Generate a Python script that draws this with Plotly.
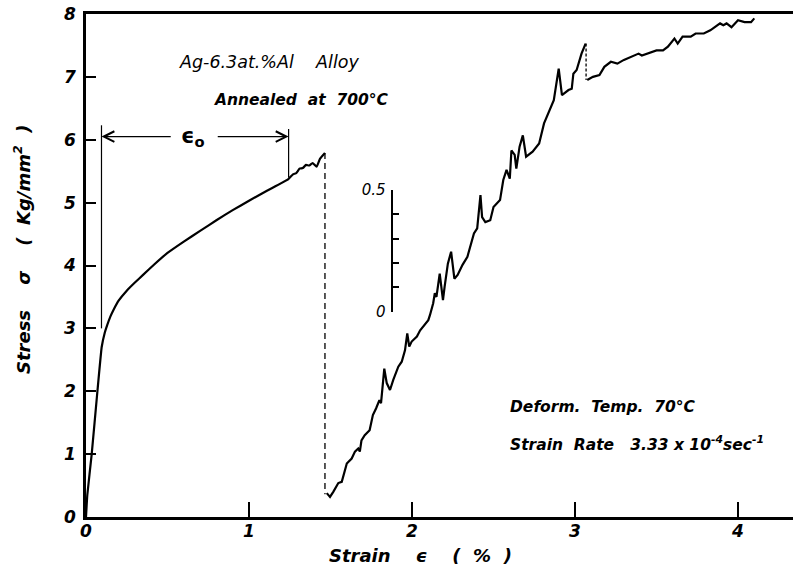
import plotly.graph_objects as go

# ---- stress-strain record (strain in %, stress in Kg/mm^2) ----
# first loading, annealed at 700 C
strain_load1 = [0, 0.008, 0.035, 0.07, 0.096, 0.115, 0.13, 0.15, 0.17, 0.20, 0.25, 0.30,
                0.35, 0.42, 0.50, 0.60, 0.70, 0.80, 0.90, 1.00, 1.11, 1.24, 1.27, 1.29,
                1.31, 1.33, 1.35, 1.37, 1.39, 1.415, 1.436, 1.466]
stress_load1 = [0, 0.35, 1.0, 2.0, 2.7, 2.93, 3.05, 3.19, 3.30, 3.44, 3.60, 3.73,
                3.85, 4.02, 4.20, 4.38, 4.55, 4.72, 4.88, 5.03, 5.19, 5.37, 5.45, 5.47,
                5.54, 5.55, 5.60, 5.59, 5.63, 5.57, 5.70, 5.79]

# reloading after the unload (serrated flow)
strain_load2 = [1.477, 1.497, 1.517, 1.548, 1.569, 1.60, 1.63, 1.65, 1.67, 1.68, 1.69, 1.71,
                1.74, 1.76, 1.78, 1.80, 1.81, 1.83, 1.845, 1.865, 1.885, 1.916, 1.937, 1.957,
                1.971, 1.983, 1.998, 2.03, 2.05, 2.07, 2.10, 2.11, 2.13, 2.14, 2.15, 2.17,
                2.19, 2.20, 2.22, 2.24, 2.26, 2.28, 2.31, 2.34, 2.38, 2.40, 2.42, 2.43,
                2.45, 2.48, 2.50, 2.54, 2.56, 2.58, 2.60, 2.61, 2.63, 2.64, 2.66, 2.68,
                2.70, 2.74, 2.78, 2.81, 2.85, 2.87, 2.90, 2.92, 2.96, 2.98, 2.99, 3.01,
                3.04, 3.065]
stress_load2 = [0.38, 0.32, 0.40, 0.54, 0.56, 0.85, 0.93, 1.04, 1.09, 1.04, 1.22, 1.30,
                1.38, 1.62, 1.73, 1.86, 1.81, 2.36, 2.13, 2.02, 2.18, 2.39, 2.47, 2.65,
                2.92, 2.71, 2.79, 2.87, 2.97, 3.03, 3.13, 3.21, 3.40, 3.56, 3.50, 3.87,
                3.45, 3.66, 4.03, 4.22, 3.79, 3.85, 4.01, 4.14, 4.51, 4.59, 5.12, 4.77,
                4.69, 4.72, 4.93, 5.04, 5.36, 5.52, 5.38, 5.83, 5.76, 5.54, 5.89, 6.07,
                5.73, 5.81, 5.94, 6.26, 6.52, 6.63, 7.13, 6.71, 6.79, 6.81, 7.05, 7.11,
                7.37, 7.53]

# flow after the load drop near 3.07 %
strain_load3 = [3.075, 3.11, 3.15, 3.18, 3.22, 3.26, 3.30, 3.35, 3.39, 3.41, 3.44, 3.50,
                3.54, 3.57, 3.61, 3.63, 3.66, 3.71, 3.74, 3.79, 3.83, 3.89, 3.91, 3.93,
                3.96, 4.00, 4.04, 4.08, 4.10]
stress_load3 = [6.95, 7.00, 7.03, 7.16, 7.24, 7.21, 7.27, 7.32, 7.37, 7.34, 7.37, 7.42,
                7.42, 7.48, 7.61, 7.53, 7.64, 7.64, 7.69, 7.69, 7.74, 7.85, 7.82, 7.85,
                7.79, 7.90, 7.87, 7.87, 7.93]

# unloading / load-drop segments (dashed)
unload_strain = [1.466, 1.466]
unload_stress = [5.79, 0.36]
drop_strain = [3.068, 3.068]
drop_stress = [7.53, 6.95]

# epsilon_0 bracket
eps0_start, eps0_end = 0.095, 1.243
eps0_level = 6.05
eps0_left_top, eps0_left_bottom = 6.23, 3.0
eps0_right_top, eps0_right_bottom = 6.17, 5.40

x_ticks = [0, 1, 2, 3, 4]
y_ticks = [0, 1, 2, 3, 4, 5, 6, 7, 8]
scale_ticks = [0, 0.5]
scale_labels = ["0", "0.5"]
scale_strain = 1.875  # where the small stress scale stands

FONT = "DejaVu Sans"
BLACK = "black"

W, H = 793, 568
ML, MR, MT, MB = 86, 0, 14, 51
PW, PH = W - ML - MR, H - MT - MB
PX_PER_STRAIN = 163.0

fig = go.Figure()

line_style = dict(color=BLACK, width=2.2, shape="spline", smoothing=0.3)
fig.add_trace(go.Scatter(x=strain_load1, y=stress_load1, mode="lines", line=line_style))
jag_style = dict(color=BLACK, width=2.2)
fig.add_trace(go.Scatter(x=strain_load2, y=stress_load2, mode="lines", line=jag_style))
fig.add_trace(go.Scatter(x=strain_load3, y=stress_load3, mode="lines", line=jag_style))
fig.add_trace(go.Scatter(x=unload_strain, y=unload_stress, mode="lines",
                         line=dict(color=BLACK, width=1.3, dash="6px,4px")))
fig.add_trace(go.Scatter(x=drop_strain, y=drop_stress, mode="lines",
                         line=dict(color=BLACK, width=1.3, dash="3px,2px")))

# bracket verticals
fig.add_trace(go.Scatter(x=[eps0_start, eps0_start], y=[eps0_left_top, eps0_left_bottom],
                         mode="lines", line=dict(color=BLACK, width=1.2)))
fig.add_trace(go.Scatter(x=[eps0_end, eps0_end], y=[eps0_right_top, eps0_right_bottom],
                         mode="lines", line=dict(color=BLACK, width=1.2)))

# invisible trace that carries the small stress scale axis
fig.add_trace(go.Scatter(x=[scale_strain, scale_strain], y=scale_ticks, mode="lines",
                         line=dict(width=0), yaxis="y2", hoverinfo="skip"))

# epsilon_0 arrows and label
eps_mid = (eps0_start + eps0_end) / 2
for head, tail in [(eps0_start, eps_mid - 0.14), (eps0_end, eps_mid + 0.13)]:
    fig.add_annotation(x=head, y=eps0_level, ax=tail, ay=eps0_level, xref="x", yref="y",
                       axref="x", ayref="y", text="", showarrow=True, arrowhead=5,
                       arrowsize=1.6, arrowwidth=1.3, arrowcolor=BLACK, standoff=0)
fig.add_annotation(x=eps_mid - 0.01, y=eps0_level, text="ϵ<sub>o</sub>", showarrow=False,
                   font=dict(family=FONT, size=21, color=BLACK, weight="bold"),
                   xanchor="center", yanchor="middle")

text_font = dict(family=FONT, size=17.5, color=BLACK, style="italic")
bold_text = dict(text_font, weight="bold", size=15.5)
fig.add_annotation(x=177, y=62, xref="paper", yref="paper",
                   text="Ag-6.3at.%Al    Alloy",
                   showarrow=False, font=text_font, xanchor="left", yanchor="middle")
fig.add_annotation(x=212, y=100, xref="paper", yref="paper", text="Annealed  at  700°C",
                   showarrow=False, font=bold_text, xanchor="left", yanchor="middle")
fig.add_annotation(x=508, y=407, xref="paper", yref="paper", text="Deform.  Temp.  70°C",
                   showarrow=False, font=bold_text, xanchor="left", yanchor="middle")
fig.add_annotation(x=508, y=443, xref="paper", yref="paper",
                   text="Strain  Rate   3.33 x 10<sup>-4</sup>sec<sup>-1</sup>",
                   showarrow=False, font=bold_text, xanchor="left", yanchor="middle")

# axis titles
title_font = dict(family=FONT, size=18, color=BLACK, style="italic", weight="bold")
fig.add_annotation(x=420, y=555, xref="paper", yref="paper",
                   text="Strain    ϵ    (  %  )", showarrow=False, font=title_font,
                   xanchor="center", yanchor="middle")
fig.add_annotation(x=22, y=250, xref="paper", yref="paper",
                   text="Stress    σ    (  Kg/mm<sup>2</sup>  )", showarrow=False,
                   font=title_font, textangle=-90, xanchor="center", yanchor="middle")

# convert the pixel-placed annotations to paper coordinates
for ann in fig.layout.annotations:
    if ann.xref == "paper":
        ann.x = (ann.x - ML) / PW
        ann.y = (H - MB - ann.y) / PH

# small scale: pixel extent of 0 .. 0.5
scale_bottom_px, scale_top_px = 311.7, 190.0

tick_font = dict(family=FONT, size=17, color=BLACK, style="italic", weight="bold")
fig.update_layout(
    width=W, height=H,
    margin=dict(l=ML, r=MR, t=MT, b=MB),
    paper_bgcolor="white", plot_bgcolor="rgba(0,0,0,0)",
    showlegend=False,
    xaxis=dict(range=[0, PW / PX_PER_STRAIN], tickvals=x_ticks, ticks="inside", ticklen=15,
               tickwidth=2, tickcolor=BLACK, showline=True, linewidth=2.5, linecolor=BLACK,
               mirror=True, showgrid=False, zeroline=False, tickfont=tick_font,
               ticklabelstandoff=-3),
    yaxis=dict(range=[0, 8], tickvals=y_ticks, ticks="inside", ticklen=10, tickwidth=2,
               tickcolor=BLACK, showline=True, linewidth=2.5, linecolor=BLACK,
               showgrid=False, zeroline=False, tickfont=tick_font, ticklabelstandoff=4),
    yaxis2=dict(domain=[(H - MB - scale_bottom_px) / PH, (H - MB - scale_top_px) / PH],
                range=[0, 0.5], anchor="free",
                position=scale_strain * PX_PER_STRAIN / PW, side="left",
                tickvals=scale_ticks, ticktext=scale_labels, ticks="inside", ticklen=11,
                tickwidth=2, tickcolor=BLACK, showline=True, linewidth=2, linecolor=BLACK,
                showgrid=False, zeroline=False,
                minor=dict(dtick=0.1, ticks="inside", ticklen=6, tickwidth=1.5,
                           tickcolor=BLACK, showgrid=False),
                tickfont=dict(family=FONT, size=15, color=BLACK, style="italic"),
                ticklabelstandoff=2),
)

fig.write_html("out.html")
